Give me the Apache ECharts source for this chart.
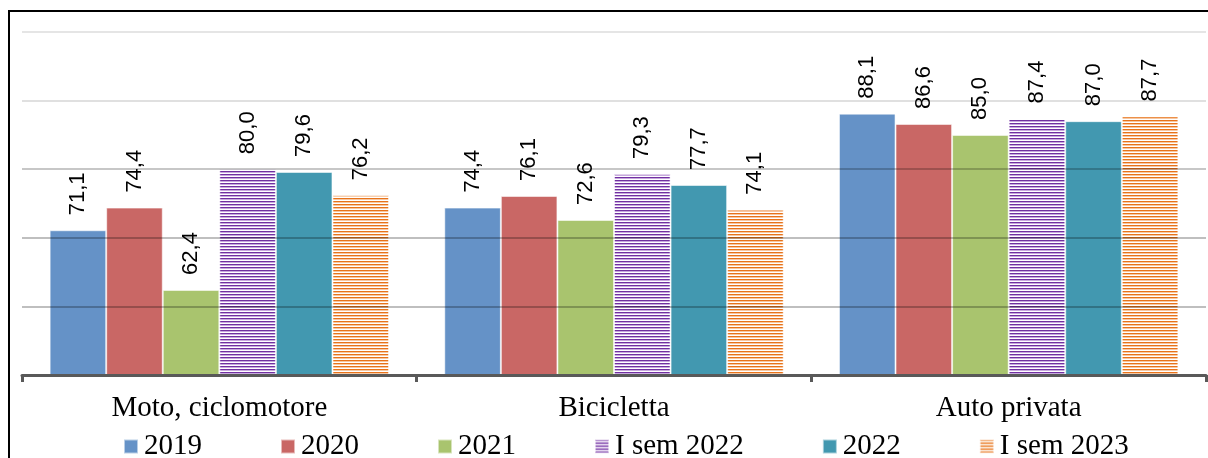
<!DOCTYPE html>
<html>
<head>
<meta charset="utf-8">
<script src="https://cdn.jsdelivr.net/npm/echarts@6/dist/echarts.min.js"></script>
<style>
  html, body { margin: 0; padding: 0; background: #fff; }
  #chart { width: 1208px; height: 458px; }
</style>
</head>
<body>
<div id="chart"></div>
<script>
// Categories and yearly shares (%)
const categories = ['Moto, ciclomotore', 'Bicicletta', 'Auto privata'];
const seriesNames = ['2019', '2020', '2021', 'I sem 2022', '2022', 'I sem 2023'];
const v2019 = [71.1, 74.4, 88.1];
const v2020 = [74.4, 76.1, 86.6];
const v2021 = [62.4, 72.6, 85.0];
const vISem2022 = [80.0, 79.3, 87.4];
const v2022 = [79.6, 77.7, 87.0];
const vISem2023 = [76.2, 74.1, 87.7];
const seriesValues = [v2019, v2020, v2021, vISem2022, v2022, vISem2023];

// Horizontal stripe fill for the half-year series
function stripes(color, light) {
  const c = document.createElement('canvas');
  c.width = 4; c.height = 3;
  const g = c.getContext('2d');
  g.fillStyle = '#ffffff'; g.fillRect(0, 0, 4, 3);
  g.fillStyle = color; g.fillRect(0, 0, 4, 1);
  g.fillStyle = light; g.fillRect(0, 1, 4, 1);
  return { image: c, repeat: 'repeat' };
}

const fills = [
  '#6592C7',
  '#C96765',
  '#A9C46E',
  stripes('#7030A0', '#C7A8DE'),
  '#4298B0',
  stripes('#E8731A', '#F6C7A2')
];

const fmt = v => v.toFixed(1).replace('.', ',');

const chart = echarts.init(document.getElementById('chart'), null, { renderer: 'canvas' });

chart.setOption({
  animation: false,
  backgroundColor: '#ffffff',
  grid: { left: 22, right: 2, top: 32, bottom: 83 },
  legend: {
    left: 118,
    top: 427,
    itemWidth: 14,
    itemHeight: 14,
    itemGap: 78,
    icon: 'rect',
    textStyle: {
      fontFamily: 'Liberation Serif', fontSize: 29, color: '#000',
      padding: [0, 0, 0, 1]
    },
    data: seriesNames
  },
  xAxis: {
    type: 'category',
    data: categories,
    z: 4,
    axisLine: { lineStyle: { color: '#595959', width: 3 } },
    axisTick: { show: true, length: 7, lineStyle: { color: '#595959', width: 3 } },
    axisLabel: { fontFamily: 'Liberation Serif', fontSize: 29, color: '#000', margin: 19 }
  },
  yAxis: {
    type: 'value',
    min: 50,
    max: 100,
    interval: 10,
    z: 3,
    axisLine: { show: false },
    axisTick: { show: false },
    axisLabel: { show: false },
    splitLine: {
      lineStyle: {
        width: 2,
        color: ['rgba(0,0,0,0.25)', 'rgba(0,0,0,0.25)', 'rgba(0,0,0,0.25)',
                'rgba(0,0,0,0.22)', 'rgba(0,0,0,0.12)', 'rgba(0,0,0,0.1)']
      }
    }
  },
  series: seriesNames.map((name, i) => ({
    name: name,
    type: 'bar',
    data: seriesValues[i],
    barGap: '0%',
    barCategoryGap: '14%',
    itemStyle: {
      color: fills[i],
      borderColor: 'rgba(255,255,255,0.55)',
      borderWidth: 1
    },
    label: {
      show: true,
      position: 'top',
      rotate: 90,
      align: 'left',
      verticalAlign: 'middle',
      distance: 15,
      fontFamily: 'Liberation Sans',
      fontSize: 22,
      color: '#000',
      formatter: p => fmt(p.value)
    }
  })),
  graphic: [{
    type: 'rect',
    z: 10,
    silent: true,
    shape: { x: 9, y: 11, width: 1400, height: 600 },
    style: { fill: 'none', stroke: '#000', lineWidth: 2 }
  }]
});
</script>
</body>
</html>
